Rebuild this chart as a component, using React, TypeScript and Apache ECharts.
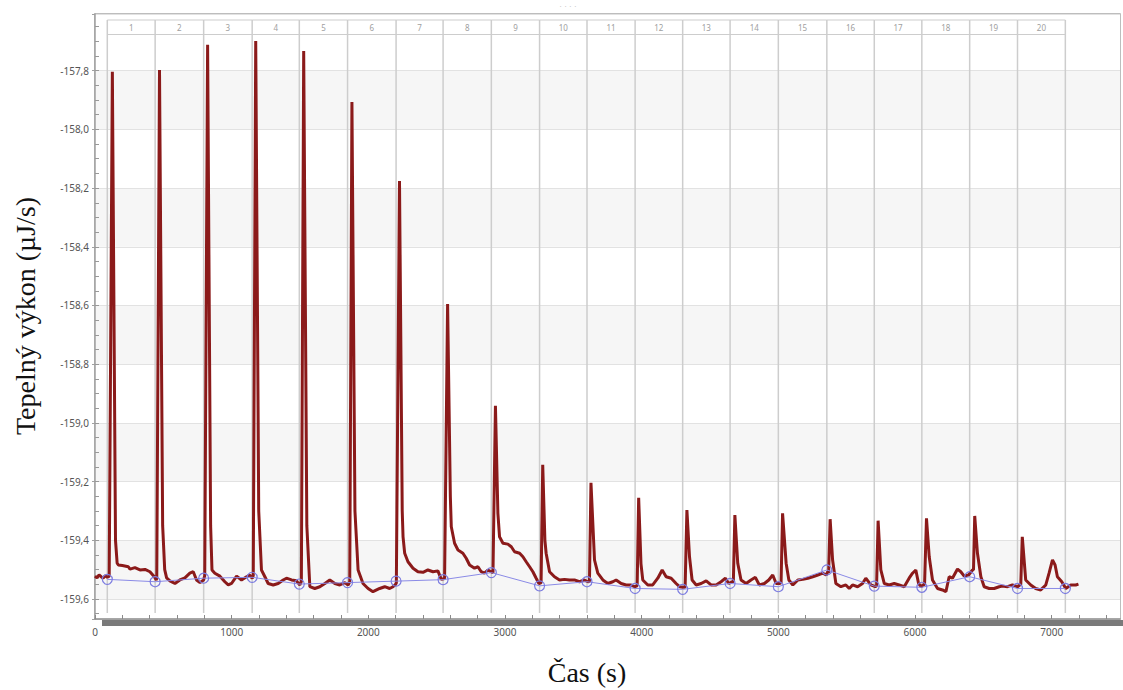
import React, { useEffect, useRef } from "react";
import * as echarts from "echarts";

// ---- data ----
const timeS: number[] = [
  0, 15, 30, 45, 60, 75, 90, 104,
  127, 150, 162, 171, 200, 244, 256, 292, 329, 366, 402, 434, 448,
  452, 472, 495, 510, 524, 548, 585, 621, 658, 694, 719, 743, 768, 795,
  803, 824, 846, 856, 877, 914, 950, 975, 999, 1036, 1072, 1109, 1133, 1150,
  1158, 1176, 1198, 1218, 1243, 1267, 1304, 1340, 1377, 1401, 1438, 1474, 1499,
  1510, 1527, 1550, 1572, 1608, 1645, 1682, 1718, 1755, 1791, 1828, 1852, 1864,
  1868, 1880, 1902, 1925, 1961, 1998, 2034, 2083, 2120, 2156, 2181, 2196,
  2205, 2228, 2248, 2254, 2266, 2290, 2327, 2363, 2400, 2436, 2473, 2509, 2534,
  2558, 2580, 2600, 2607, 2631, 2656, 2692, 2716, 2741, 2777, 2802, 2826, 2850, 2875, 2899,
  2912, 2930, 2948, 2960, 2985, 3021, 3046, 3070, 3107, 3131, 3155, 3180, 3204, 3228, 3248,
  3264, 3276, 3292, 3301, 3326, 3362, 3399, 3435, 3472, 3508, 3545, 3581, 3606,
  3618, 3629, 3655, 3679, 3716, 3752, 3789, 3813, 3850, 3886, 3923, 3947,
  3967, 3978, 3995, 4008, 4045, 4081, 4118, 4150, 4179, 4216, 4252, 4277, 4301,
  4318, 4331, 4350, 4369, 4399, 4435, 4472, 4508, 4545, 4581, 4613, 4637, 4662,
  4671, 4682, 4703, 4727, 4764, 4800, 4832, 4861, 4898, 4930, 4959, 4984, 5008,
  5020, 5031, 5057, 5077, 5106, 5143, 5179, 5216, 5252, 5289, 5326, 5350, 5362,
  5368, 5379, 5397, 5421, 5458, 5494, 5519, 5543, 5580, 5616, 5640, 5677, 5709,
  5719, 5730, 5750, 5775, 5811, 5848, 5884, 5921, 5957, 5982, 6006, 6026, 6043, 6060,
  6070, 6084, 6104, 6128, 6165, 6201, 6226, 6250, 6274, 6311, 6335, 6360, 6392, 6421,
  6428, 6437, 6457, 6482, 6506, 6543, 6579, 6616, 6640, 6677, 6713, 6750, 6767,
  6774, 6785, 6810, 6847, 6883, 6920, 6957, 6981, 7006, 7025, 7042, 7074, 7103, 7140, 7176, 7196,
];

const powerUJs: number[] = [
  -159.522, -159.528, -159.518, -159.524, -159.529, -159.52, -159.526, -159.522,
  -157.804, -159.4, -159.478, -159.484, -159.486, -159.49, -159.498, -159.493, -159.501, -159.499, -159.507, -159.524, -159.535,
  -159.53, -157.798, -159.35, -159.5, -159.528, -159.538, -159.547, -159.535, -159.528, -159.512, -159.507, -159.535, -159.544, -159.535,
  -159.52, -157.712, -159.35, -159.501, -159.512, -159.522, -159.541, -159.552, -159.547, -159.522, -159.535, -159.524, -159.518, -159.53,
  -159.52, -157.699, -159.3, -159.501, -159.524, -159.547, -159.552, -159.547, -159.535, -159.529, -159.535, -159.538, -159.552,
  -159.54, -157.733, -159.35, -159.558, -159.564, -159.558, -159.547, -159.535, -159.547, -159.552, -159.544, -159.552, -159.541,
  -159.54, -157.907, -159.3, -159.501, -159.547, -159.564, -159.575, -159.564, -159.558, -159.564, -159.558, -159.552,
  -159.545, -158.176, -159.3, -159.388, -159.444, -159.473, -159.495, -159.507, -159.509, -159.501, -159.507, -159.504, -159.533,
  -159.53, -158.595, -159.25, -159.354, -159.41, -159.433, -159.444, -159.461, -159.484, -159.495, -159.49, -159.507, -159.512, -159.501, -159.507,
  -159.51, -158.942, -159.308, -159.388, -159.41, -159.413, -159.422, -159.439, -159.444, -159.456, -159.473, -159.49, -159.507, -159.529, -159.547,
  -159.545, -159.143, -159.4, -159.444, -159.507, -159.524, -159.535, -159.533, -159.535, -159.535, -159.541, -159.535, -159.541,
  -159.54, -159.204, -159.467, -159.512, -159.535, -159.547, -159.541, -159.535, -159.547, -159.552, -159.552, -159.558,
  -159.555, -159.255, -159.48, -159.535, -159.552, -159.552, -159.529, -159.501, -159.524, -159.529, -159.547, -159.558, -159.56,
  -159.56, -159.297, -159.456, -159.535, -159.552, -159.547, -159.538, -159.552, -159.552, -159.541, -159.529, -159.547, -159.541,
  -159.54, -159.314, -159.478, -159.535, -159.547, -159.535, -159.526, -159.552, -159.547, -159.535, -159.518, -159.547, -159.547,
  -159.545, -159.308, -159.478, -159.535, -159.552, -159.535, -159.533, -159.529, -159.524, -159.518, -159.512, -159.518, -159.507,
  -159.51, -159.328, -159.467, -159.547, -159.558, -159.552, -159.564, -159.552, -159.558, -159.547, -159.529, -159.552, -159.558,
  -159.555, -159.333, -159.501, -159.547, -159.552, -159.547, -159.552, -159.558, -159.529, -159.512, -159.501, -159.547, -159.558, -159.552,
  -159.55, -159.325, -159.456, -159.535, -159.564, -159.569, -159.575, -159.524, -159.529, -159.498, -159.507, -159.522, -159.518, -159.501,
  -159.5, -159.317, -159.444, -159.524, -159.558, -159.564, -159.564, -159.558, -159.556, -159.558, -159.552, -159.558, -159.552,
  -159.55, -159.388, -159.535, -159.552, -159.564, -159.569, -159.552, -159.512, -159.467, -159.484, -159.524, -159.541, -159.564, -159.552, -159.552, -159.549,
];

// injection boundaries (s) and integration baseline points
const boundariesS: number[] = [
  90, 440, 795, 1150, 1495, 1848, 2203, 2547, 2900, 3253, 3600, 3952, 4300, 4647, 5000, 5355, 5702, 6050, 6400, 6750, 7100,
];
const baselineUJs: number[] = [
  -159.533, -159.541, -159.529, -159.526, -159.549, -159.544, -159.539, -159.534, -159.51, -159.555, -159.541,
  -159.564, -159.567, -159.547, -159.558, -159.501, -159.556, -159.56, -159.524, -159.564, -159.564,
];
const injectionLabels: string[] = [
  "1", "2", "3", "4", "5", "6", "7", "8", "9", "10", "11", "12", "13", "14", "15", "16", "17", "18", "19", "20",
];

// axes
const yMin = -159.668;
const yMax = -157.607;
const yLabelValues: number[] = [-159.6, -159.4, -159.2, -159.0, -158.8, -158.6, -158.4, -158.2, -158.0, -157.8];
const yTickValues: number[] = [
  -159.65, -159.6, -159.55, -159.5, -159.45, -159.4, -159.35, -159.3, -159.25, -159.2, -159.15, -159.1, -159.05,
  -159.0, -158.95, -158.9, -158.85, -158.8, -158.75, -158.7, -158.65, -158.6, -158.55, -158.5, -158.45, -158.4,
  -158.35, -158.3, -158.25, -158.2, -158.15, -158.1, -158.05, -158.0, -157.95, -157.9, -157.85, -157.8, -157.75,
  -157.7, -157.65,
];
const xMin = 0;
const xMax = 7500;
const xLabelValues: number[] = [0, 1000, 2000, 3000, 4000, 5000, 6000, 7000];
const xTickValues: number[] = [
  0, 200, 400, 600, 800, 1000, 1200, 1400, 1600, 1800, 2000, 2200, 2400, 2600, 2800, 3000, 3200, 3400, 3600,
  3800, 4000, 4200, 4400, 4600, 4800, 5000, 5200, 5400, 5600, 5800, 6000, 6200, 6400, 6600, 6800, 7000, 7200, 7400,
];

const yTitle = "Tepelný výkon (µJ/s)";
const xTitle = "Čas (s)";

export default function App() {
  const ref = useRef<HTMLDivElement>(null);

  useEffect(() => {
    if (!ref.current) return;
    const chart = echarts.init(ref.current, null, { renderer: "svg" });

    const trace = timeS.map((t, i) => [t, powerUJs[i]]);
    const baseline = boundariesS.map((t, i) => [t, baselineUJs[i]]);
    const strip = boundariesS.map((t, i) => [t, i]);

    const option: any = {
      animation: false,
      backgroundColor: "#ffffff",
      grid: {
        left: 95,
        top: 14,
        right: 3,
        bottom: 71,
        show: true,
        borderColor: "#a8a8a8",
        borderWidth: 1.5,
        backgroundColor: "transparent",
      },
      xAxis: {
        type: "value",
        min: xMin,
        max: xMax,
        interval: 1000,
        axisLine: { show: true, onZero: false, lineStyle: { color: "#8a8a8a", width: 1.5 } },
        axisTick: {
          show: true,
          inside: true,
          length: 4,
          customValues: xTickValues,
          lineStyle: { color: "#8a8a8a" },
        },
        axisLabel: {
          customValues: xLabelValues,
          color: "#555",
          fontSize: 10,
          fontFamily: "Noto Sans",
          margin: 8,
          formatter: (v: number) => (xLabelValues.indexOf(Math.round(v)) >= 0 ? String(Math.round(v)) : ""),
        },
        splitLine: { show: false },
      },
      yAxis: [
        {
          type: "value",
          min: yMin,
          max: yMax,
          splitNumber: 10,
          axisLine: { show: true, onZero: false, lineStyle: { color: "#a0a0a0", width: 1.5 } },
          axisTick: { show: true, inside: false, length: 3, lineStyle: { color: "#a0a0a0" } },
          axisLabel: {
            customValues: yLabelValues,
            color: "#555",
            fontSize: 10,
            fontFamily: "Noto Sans",
            margin: 6,
            formatter: (v: number) => {
              const hit = yLabelValues.find((l) => Math.abs(l - v) < 0.001);
              return hit === undefined ? "" : hit.toFixed(1).replace(".", ",");
            },
          },
          splitLine: { show: true, lineStyle: { color: "#e2e2e2", width: 1 } },
          splitArea: { show: true, areaStyle: { color: ["#ffffff", "#f6f6f6"] } },
        },
        {
          type: "value",
          min: yMin,
          max: yMax,
          position: "left",
          splitNumber: 10,
          axisLine: { show: false },
          axisTick: {
            show: true,
            inside: true,
            length: 4,
            customValues: yTickValues,
            lineStyle: { color: "#999" },
          },
          axisLabel: { show: false },
          splitLine: { show: false },
          splitArea: { show: false },
        },
      ],
      series: [
        {
          type: "custom",
          z: 1,
          silent: true,
          data: strip,
          encode: { x: 0, y: 1 },
          renderItem: (params: any, api: any) => {
            const i = api.value(1);
            const t = api.value(0);
            const cs = params.coordSys;
            const x = api.coord([t, yMin])[0];
            const top = cs.y + 6;
            const bottom = cs.y + cs.height - 6;
            const stroke = "#cdcdcd";
            const children: any[] = [
              { type: "line", shape: { x1: x, y1: top, x2: x, y2: bottom }, style: { stroke, lineWidth: 1.5 } },
            ];
            if (i < boundariesS.length - 1) {
              const x2 = api.coord([boundariesS[i + 1], yMin])[0];
              children.push({ type: "line", shape: { x1: x, y1: top, x2, y2: top }, style: { stroke, lineWidth: 1.2 } });
              children.push({
                type: "line",
                shape: { x1: x, y1: top + 14.5, x2, y2: top + 14.5 },
                style: { stroke, lineWidth: 1.2 },
              });
              children.push({
                type: "text",
                style: {
                  text: injectionLabels[i],
                  x: (x + x2) / 2,
                  y: top + 7.5,
                  align: "center",
                  verticalAlign: "middle",
                  fontSize: 8,
                  fontFamily: "Noto Sans",
                  fill: "#a0a0a0",
                },
              });
            }
            return { type: "group", children };
          },
        },
        {
          type: "line",
          z: 3,
          data: trace,
          showSymbol: false,
          symbol: "none",
          lineStyle: { color: "#8b1a1a", width: 3 },
          silent: true,
        },
        {
          type: "line",
          z: 4,
          data: baseline,
          symbol: "circle",
          symbolSize: 10,
          showSymbol: true,
          itemStyle: { color: "rgba(0,0,0,0)", borderColor: "#7c7ce0", borderWidth: 1.2 },
          lineStyle: { color: "#8a8ae6", width: 1 },
          silent: true,
        },
      ],
      graphic: [
        {
          type: "rect",
          shape: { x: 102, y: 620, width: 1021, height: 6 },
          style: { fill: "#7a7a7a" },
          z: 10,
        },
        {
          type: "text",
          x: 568,
          y: 6,
          style: { text: "· · · ·", fontSize: 8, fill: "#bbbbbb", align: "center", verticalAlign: "middle" },
        },
        {
          type: "text",
          x: 25,
          y: 316,
          rotation: Math.PI / 2,
          style: {
            text: yTitle,
            align: "center",
            verticalAlign: "middle",
            fontSize: 28,
            fontFamily: "Liberation Serif",
            fill: "#111",
          },
        },
        {
          type: "text",
          x: 587,
          y: 672,
          style: {
            text: xTitle,
            align: "center",
            verticalAlign: "middle",
            fontSize: 28,
            fontFamily: "Liberation Serif",
            fill: "#111",
          },
        },
      ],
    };

    chart.setOption(option);
    return () => chart.dispose();
  }, []);

  return (
    <div
      ref={ref}
      style={{ position: "fixed", left: 0, top: 0, width: 1123, height: 690, background: "#fff" }}
    />
  );
}
